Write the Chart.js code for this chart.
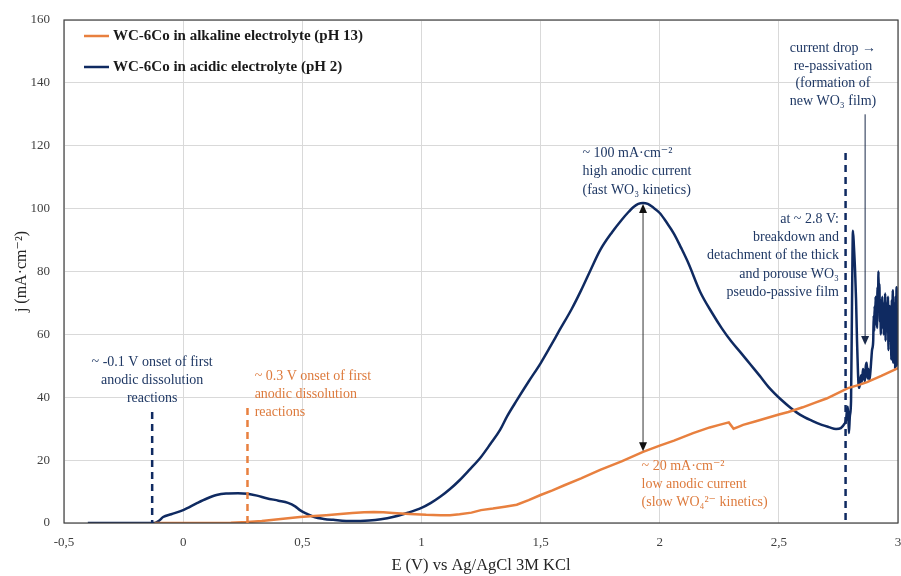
<!DOCTYPE html>
<html>
<head>
<meta charset="utf-8">
<script src="https://cdn.jsdelivr.net/npm/chart.js@4"></script>
<style>
html,body{margin:0;padding:0;background:#fff;}
#c{display:block;}
</style>
</head>
<body>
<canvas id="c" width="901" height="576"></canvas>
<script>
// ---- Data ----
const seriesLabels = ['WC-6Co in alkaline electrolyte (pH 13)', 'WC-6Co in acidic electrolyte (pH 2)'];

const alkalineE = [-0.12, 0.0, 0.10, 0.20, 0.27, 0.33, 0.38, 0.44, 0.49, 0.55, 0.60, 0.66, 0.71, 0.76, 0.80, 0.84, 0.88, 0.95, 1.02, 1.08, 1.12, 1.16, 1.21, 1.25, 1.30, 1.35, 1.40, 1.45, 1.50, 1.55, 1.60, 1.67, 1.75, 1.84, 1.93, 2.00, 2.06, 2.14, 2.21, 2.25, 2.27, 2.29, 2.31, 2.33, 2.35, 2.40, 2.45, 2.50, 2.54, 2.60, 2.65, 2.70, 2.73, 2.79, 2.84, 2.87, 2.93, 3.00];
const alkalineJ = [0, 0, 0, 0.1, 0.3, 0.6, 1.0, 1.5, 1.9, 2.2, 2.5, 2.9, 3.2, 3.4, 3.5, 3.4, 3.2, 2.9, 2.6, 2.5, 2.5, 2.8, 3.3, 4.1, 4.6, 5.2, 5.8, 7.3, 8.9, 10.4, 12.0, 14.2, 16.9, 19.6, 22.6, 24.6, 26.2, 28.6, 30.4, 31.2, 31.6, 32.0, 30.0, 30.6, 31.2, 32.3, 33.4, 34.5, 35.3, 36.8, 38.2, 39.6, 40.7, 42.9, 44.0, 44.8, 46.8, 49.3];

const acidicE = [-0.40, -0.12, -0.10, -0.084, -0.05, 0.0, 0.06, 0.10, 0.14, 0.18, 0.23, 0.27, 0.31, 0.35, 0.40, 0.44, 0.47, 0.49, 0.52, 0.55, 0.59, 0.63, 0.71, 0.78, 0.83, 0.88, 0.94, 1.00, 1.04, 1.08, 1.12, 1.16, 1.20, 1.25, 1.29, 1.33, 1.36, 1.40, 1.45, 1.50, 1.54, 1.58, 1.63, 1.67, 1.71, 1.75, 1.80, 1.84, 1.87, 1.89, 1.91, 1.93, 1.95, 1.97, 2.00, 2.03, 2.06, 2.09, 2.12, 2.17, 2.22, 2.26, 2.30, 2.34, 2.38, 2.42, 2.46, 2.51, 2.55, 2.59, 2.64, 2.68, 2.71, 2.74, 2.76,
  2.775, 2.782, 2.786, 2.790, 2.794, 2.798, 2.803, 2.807, 2.811, 2.815, 2.820, 2.824, 2.828, 2.832, 2.836, 2.840, 2.845, 2.849, 2.853, 2.857, 2.861, 2.865, 2.869, 2.872, 2.876, 2.880, 2.884, 2.888, 2.891,
  2.896, 2.898, 2.900, 2.902, 2.904, 2.906, 2.908, 2.910, 2.912, 2.914, 2.916, 2.918, 2.920, 2.922, 2.924, 2.926, 2.928, 2.930, 2.932, 2.934, 2.936, 2.938, 2.940, 2.942, 2.944, 2.946, 2.948, 2.950, 2.952, 2.954, 2.956, 2.958, 2.960, 2.962, 2.964, 2.966, 2.968, 2.970, 2.972, 2.974, 2.976, 2.978, 2.980, 2.982, 2.984, 2.986, 2.988, 2.990, 2.992, 2.994, 2.996, 2.998, 3.000];
const acidicJ = [0, 0, 0.8, 1.9, 2.8, 4.1, 6.4, 7.8, 8.9, 9.4, 9.5, 9.3, 8.7, 7.9, 7.1, 6.4, 5.3, 4.1, 2.9, 1.9, 1.3, 1.0, 0.6, 0.8, 1.2, 1.9, 3.2, 4.8, 6.4, 8.4, 10.8, 13.6, 16.8, 21.0, 25.2, 29.6, 34.0, 39.0, 45.0, 50.8, 56.0, 61.4, 68.0, 74.0, 80.5, 86.8, 92.5, 96.4, 99.0, 100.5, 101.5, 101.8, 101.5, 100.5, 98.6, 95.5, 92.0, 87.5, 82.7, 73.5, 66.8, 62.0, 57.8, 54.2, 50.5, 46.8, 43.0, 39.2, 36.6, 34.4, 32.5, 31.2, 30.5, 29.9, 30.2,
  31.5, 32.8, 36.0, 37.0, 28.6, 34.0, 39.0, 70.0, 93.0, 88.0, 80.0, 71.0, 58.0, 48.0, 43.0, 44.0, 47.0, 45.0, 49.0, 47.7, 45.0, 50.0, 51.0, 46.0, 49.0, 45.5, 48.0, 52.0, 55.0,
  58, 66, 61, 69, 63, 72, 64, 70, 62, 75, 68, 80, 70, 76, 64, 71, 60, 69, 62, 72, 65, 70, 60, 68, 63, 73, 58, 67, 61, 70, 66, 72, 55, 64, 58, 69, 60, 66, 52, 71, 56, 74, 51, 67, 53, 70, 49, 72, 52, 75, 50, 68, 57];

const xTicks = [-0.5, 0, 0.5, 1, 1.5, 2, 2.5, 3];
const yTicks = [0, 20, 40, 60, 80, 100, 120, 140, 160];

// annotation anchors (data coordinates)
const onsetAcidic = -0.13, onsetAlkaline = 0.27, breakdownE = 2.78;
const peakE = 1.93, peakJ = 101.5, lowJ = 22.8;
const repassE = 2.862, repassFrom = 130, repassTo = 56.6;

const NAVY = '#0f2a61';
const ORANGE = '#e8803f';
const ORANGE_TXT = '#dd7a3c';
const NAVY_TXT = '#1f3864';
const SERIF = '"Liberation Serif", "DejaVu Serif", serif';

function zip(xs, ys){ return xs.map((x,i)=>({x:x, y:ys[i]})); }

const annot = {
  id: 'annot',
  afterDatasetsDraw(chart){
    const {ctx, chartArea:a} = chart;
    const x = chart.scales.x, y = chart.scales.y;
    const X = v => x.getPixelForValue(v), Y = v => y.getPixelForValue(v);
    ctx.save();
    ctx.strokeStyle = '#404040'; ctx.lineWidth = 1.2;
    ctx.strokeRect(a.left, a.top, a.right - a.left, a.bottom - a.top);

    function dashed(e, top, color){
      ctx.save();
      ctx.strokeStyle = color; ctx.lineWidth = 2.5; ctx.setLineDash([7,5]);
      ctx.beginPath(); ctx.moveTo(X(e), Y(top)); ctx.lineTo(X(e), Y(0)); ctx.stroke();
      ctx.restore();
    }
    dashed(onsetAcidic, 35.3, NAVY);
    dashed(onsetAlkaline, 36.6, ORANGE);
    dashed(breakdownE, 117.7, NAVY);

    function head(px, py, dir, color){
      ctx.fillStyle = color;
      ctx.beginPath();
      ctx.moveTo(px, py);
      ctx.lineTo(px - 4, py - dir*9);
      ctx.lineTo(px + 4, py - dir*9);
      ctx.closePath(); ctx.fill();
    }
    ctx.strokeStyle = '#333'; ctx.lineWidth = 1;
    ctx.beginPath(); ctx.moveTo(X(peakE), Y(peakJ)+8); ctx.lineTo(X(peakE), Y(lowJ)-8); ctx.stroke();
    head(X(peakE), Y(peakJ), -1, '#111');
    head(X(peakE), Y(lowJ), 1, '#111');
    ctx.strokeStyle = '#1a2a4a'; ctx.lineWidth = 1;
    ctx.beginPath(); ctx.moveTo(X(repassE), Y(repassFrom)); ctx.lineTo(X(repassE), Y(repassTo)-8); ctx.stroke();
    head(X(repassE), Y(repassTo), 1, '#1a2a4a');

    ctx.font = '14px ' + SERIF;
    ctx.textBaseline = 'middle';
    function lines(arr, e, j0, dj, align, color){
      ctx.fillStyle = color; ctx.textAlign = align;
      arr.forEach((t,i)=>ctx.fillText(t, X(e), Y(j0) + i*dj));
    }
    lines(['~ -0.1 V onset of first','anodic dissolution','reactions'], -0.13, 51.2, 18, 'center', NAVY_TXT);
    lines(['~ 0.3 V onset of first','anodic dissolution','reactions'], 0.30, 46.8, 18, 'left', ORANGE_TXT);
    lines(['~ 100 mA·cm⁻²','high anodic current','(fast WO₃ kinetics)'], 1.676, 117.7, 18.5, 'left', NAVY_TXT);
    lines(['~ 20 mA·cm⁻²','low anodic current','(slow WO₄²⁻ kinetics)'], 1.924, 18.1, 18, 'left', ORANGE_TXT);
    lines(['at ~ 2.8 V:','breakdown and','detachment of the thick','and porouse WO₃','pseudo-passive film'], 2.752, 96.7, 18.3, 'right', NAVY_TXT);
    lines(['current drop →','re-passivation','(formation of','new WO₃ film)'], 2.727, 151, 17.7, 'center', NAVY_TXT);

    ctx.font = 'bold 15px ' + SERIF;
    ctx.textAlign = 'left';
    const cols = [ORANGE, NAVY];
    seriesLabels.forEach((t,i)=>{
      const ly = a.top + 16 + i*31;
      ctx.strokeStyle = cols[i]; ctx.lineWidth = 2.5;
      ctx.beginPath(); ctx.moveTo(a.left + 20, ly); ctx.lineTo(a.left + 45, ly); ctx.stroke();
      ctx.fillStyle = '#1a1a1a';
      ctx.fillText(t, a.left + 49, ly);
    });
    ctx.restore();
  }
};

new Chart(document.getElementById('c'), {
  type: 'scatter',
  data: {
    datasets: [
      { label: seriesLabels[0], data: zip(alkalineE, alkalineJ), showLine: true, borderColor: ORANGE, backgroundColor: ORANGE, borderWidth: 2.5, pointRadius: 0, tension: 0 },
      { label: seriesLabels[1], data: zip(acidicE, acidicJ), showLine: true, borderColor: NAVY, backgroundColor: NAVY, borderWidth: 2.5, pointRadius: 0, cubicInterpolationMode: 'monotone' }
    ]
  },
  options: {
    responsive: false, animation: false, devicePixelRatio: 1,
    layout: { padding: { top: 20, right: 3, left: 0, bottom: 0 } },
    plugins: { legend: { display: false }, tooltip: { enabled: false } },
    scales: {
      x: {
        type: 'linear', min: -0.5, max: 3,
        afterBuildTicks: s => { s.ticks = xTicks.map(v => ({value: v})); },
        afterFit: s => { s.height = 53; s.paddingLeft = 0; s.paddingRight = 0; },
        grid: { color: '#d9d9d9', drawTicks: false, lineWidth: 1 },
        border: { display: false },
        ticks: { padding: 12, color: '#404040', font: { family: SERIF, size: 13 },
                 callback: v => String(v).replace('.', ',') },
        title: { display: true, text: 'E (V) vs Ag/AgCl 3M KCl', color: '#262626',
                 font: { family: SERIF, size: 16.5 }, padding: { top: 1, bottom: 0 } }
      },
      y: {
        min: 0, max: 160,
        afterBuildTicks: s => { s.ticks = yTicks.map(v => ({value: v})); },
        afterFit: s => { s.width = 64; s.paddingTop = 0; s.paddingBottom = 0; },
        grid: { color: '#d9d9d9', drawTicks: false, lineWidth: 1 },
        border: { display: false },
        ticks: { padding: 14, color: '#404040', font: { family: SERIF, size: 13 } },
        title: { display: true, text: 'j (mA·cm⁻²)', color: '#262626',
                 font: { family: SERIF, size: 16 }, padding: { top: 12, bottom: 0 } }
      }
    }
  },
  plugins: [annot]
});
</script>
</body>
</html>
